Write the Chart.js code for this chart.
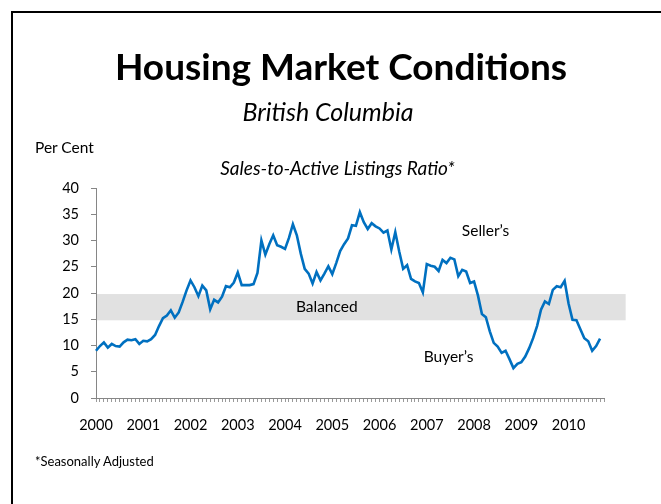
<!DOCTYPE html>
<html>
<head>
<meta charset="utf-8">
<title>Housing Market Conditions</title>
<script src="https://cdn.jsdelivr.net/npm/chart.js@4.4.0/dist/chart.umd.min.js"></script>
<style>
    html, body { margin: 0; padding: 0; background: #fff; overflow: hidden; }
    #wrap { position: relative; width: 661px; height: 504px; font-family: Lato, 'Open Sans', sans-serif; color: #000; }
    #frame { position: absolute; left: 11px; top: 11px; width: 720px; height: 620px; border-left: 2px solid #000; border-top: 2px solid #000; }
    #chart { position: absolute; left: 0; top: 0; }
    .txt { position: absolute; white-space: nowrap; line-height: 1; }
    #title { left: 0; width: 682px; text-align: center; top: 47px; font-size: 37px; font-weight: bold; }
    #subtitle { left: 0; width: 656px; text-align: center; top: 99px; font-size: 25px; font-style: italic; }
    #unit { left: 35px; top: 140px; font-size: 15.5px; }
    #series-title { left: 0; width: 675px; text-align: center; top: 158px; font-size: 19px; font-style: italic; }
    #note { left: 35px; top: 455px; font-size: 13px; }
</style>
</head>
<body>
<div id="wrap">
    <canvas id="chart" width="661" height="504"></canvas>
    <div id="frame"></div>
    <div class="txt" id="title">Housing Market Conditions</div>
    <div class="txt" id="subtitle">British Columbia</div>
    <div class="txt" id="unit">Per Cent</div>
    <div class="txt" id="series-title">Sales-to-Active Listings Ratio*</div>
    <div class="txt" id="note">*Seasonally Adjusted</div>
</div>
<script>
// monthly data, Jan 2000 - Sep 2010
const years = ['2000', '2001', '2002', '2003', '2004', '2005', '2006', '2007', '2008', '2009', '2010'];
const salesToListings = [
    9.0, 9.9, 10.6, 9.6, 10.3, 9.9, 9.8, 10.6, 11.1, 11.0, 11.2, 10.3,
    10.9, 10.8, 11.2, 12.0, 13.7, 15.2, 15.7, 16.7, 15.3, 16.3, 18.3, 20.5,
    22.4, 21.1, 19.4, 21.4, 20.5, 16.9, 18.7, 18.2, 19.3, 21.3, 21.1, 22.0,
    23.9, 21.5, 21.5, 21.5, 21.7, 23.8, 30.0, 27.3, 29.3, 31.0, 29.1, 28.8,
    28.4, 30.5, 33.1, 31.0, 27.5, 24.6, 23.7, 21.8, 24.0, 22.4, 23.7, 25.1,
    23.6, 25.7, 28.0, 29.3, 30.4, 32.9, 32.8, 35.4, 33.5, 32.2, 33.3, 32.7,
    32.3, 31.5, 31.9, 28.3, 31.6, 27.9, 24.6, 25.3, 22.7, 22.2, 21.9, 20.1,
    25.5, 25.2, 25.0, 24.2, 26.3, 25.7, 26.7, 26.4, 23.2, 24.4, 24.1, 21.9,
    22.2, 19.5, 16.0, 15.4, 12.7, 10.5, 9.8, 8.6, 9.0, 7.4, 5.7, 6.5,
    6.8, 7.9, 9.5, 11.4, 13.7, 16.8, 18.4, 17.9, 20.6, 21.3, 21.1, 22.3,
    18.0, 14.9, 14.8, 13.1, 11.4, 10.8, 9.0, 9.9, 11.3
];
const balancedRange = [14.8, 19.8];
const yTicks = [0, 5, 10, 15, 20, 25, 30, 35, 40];

// one category per month, plus one empty month at the end of the axis
const monthLabels = [];
for (let i = 0; i < salesToListings.length + 1; i++) {
    const y = years[Math.floor(i / 12)];
    monthLabels.push(i % 12 === 0 && y ? y : '');
}

const fontFamily = "Lato, 'Open Sans', sans-serif";
const axisGrey = '#868686';

// grey "Balanced" band and the Seller's / Buyer's notes
const marketZones = {
    id: 'marketZones',
    beforeDatasetsDraw(chart) {
        const ctx = chart.ctx;
        const xs = chart.scales.x;
        const ys = chart.scales.y;
        const top = ys.getPixelForValue(balancedRange[1]);
        const bottom = ys.getPixelForValue(balancedRange[0]);
        const left = chart.chartArea.left + 1;
        const right = xs.getPixelForValue(134.5);
        ctx.save();
        ctx.fillStyle = '#e1e1e1';
        ctx.fillRect(left, top, right - left, bottom - top);
        ctx.fillStyle = '#000';
        ctx.font = '15.5px ' + fontFamily;
        ctx.textBaseline = 'middle';
        ctx.textAlign = 'center';
        ctx.fillText('Balanced', xs.getPixelForValue(58.6), ys.getPixelForValue(17.3));
        ctx.textAlign = 'left';
        ctx.fillText('Seller\u2019s', xs.getPixelForValue(92.9), ys.getPixelForValue(31.8));
        ctx.fillText('Buyer\u2019s', xs.getPixelForValue(83.2), ys.getPixelForValue(7.9));
        ctx.restore();
    }
};

const ctx = document.getElementById('chart').getContext('2d');
const chart = new Chart(ctx, {
    type: 'line',
    data: {
        labels: monthLabels,
        datasets: [{
            label: 'Sales-to-Active Listings Ratio',
            data: salesToListings,
            borderColor: '#0070c0',
            borderWidth: 2.6,
            pointRadius: 0,
            tension: 0,
            fill: false
        }]
    },
    options: {
        responsive: false,
        animation: false,
        layout: {
            padding: { top: 188, right: 57, bottom: 66, left: 0 }
        },
        plugins: {
            legend: { display: false },
            tooltip: { enabled: false }
        },
        scales: {
            x: {
                offset: false,
                ticks: {
                    autoSkip: false,
                    maxRotation: 0,
                    color: '#000',
                    padding: 15,
                    font: { family: fontFamily, size: 14.5 },
                    callback: function(value, index) {
                        return monthLabels[index];
                    }
                },
                grid: {
                    drawOnChartArea: false,
                    drawTicks: true,
                    tickLength: 4,
                    color: '#9a9a9a'
                },
                border: { color: axisGrey, width: 1 },
                afterFit: function(scale) { scale.height = 40; }
            },
            y: {
                min: 0,
                max: 40,
                afterBuildTicks: function(scale) {
                    scale.ticks = yTicks.map(v => ({ value: v }));
                },
                ticks: {
                    color: '#000',
                    padding: 12,
                    font: { family: fontFamily, size: 14.5 }
                },
                grid: {
                    drawOnChartArea: false,
                    drawTicks: true,
                    tickLength: 5,
                    color: axisGrey
                },
                border: { color: axisGrey, width: 1 },
                afterFit: function(scale) { scale.width = 96; }
            }
        }
    },
    plugins: [marketZones]
});
</script>
</body>
</html>
